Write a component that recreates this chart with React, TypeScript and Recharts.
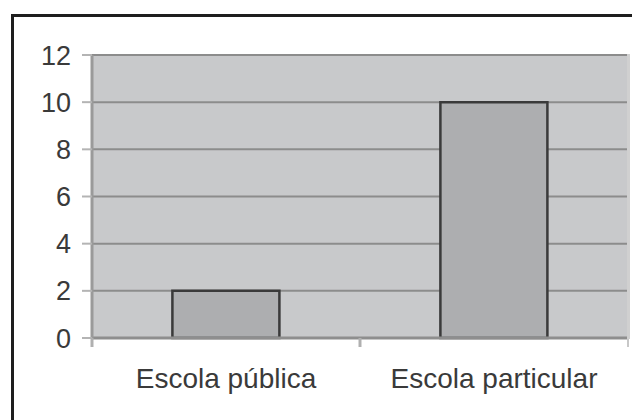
import React from 'react';
import { BarChart, Bar, XAxis, YAxis, CartesianGrid } from 'recharts';

const categories = ['Escola pública', 'Escola particular'];
const values = [2, 10];
const yTicks = [0, 2, 4, 6, 8, 10, 12];

const data = categories.map((name, i) => ({ name, value: values[i] }));

const CHART_W = 632;
const CHART_H = 420;
const PLOT_LEFT = 92;
const PLOT_RIGHT = 628;
const BAND = (PLOT_RIGHT - PLOT_LEFT) / categories.length;
const X_TICK_SIZE = 6;
const X_TICK_MARGIN = 2;

const XTick = (props: any) => {
  const { x, y, payload, index } = props;
  const axisY = y - X_TICK_SIZE - X_TICK_MARGIN;
  const left = x - BAND / 2;
  const right = x + BAND / 2;
  return (
    <g>
      <line x1={left} y1={axisY} x2={left} y2={axisY + 9} stroke="#b0b0b0" strokeWidth={3} />
      {index === categories.length - 1 && (
        <line x1={right} y1={axisY} x2={right} y2={axisY + 9} stroke="#c8c8c8" strokeWidth={2} />
      )}
      <text
        x={x}
        y={axisY + 30}
        dy="0.71em"
        textAnchor="middle"
        fill="#3a3a3a"
        fontSize={28}
        fontFamily="'Liberation Sans', Arial, sans-serif"
      >
        {payload.value}
      </text>
    </g>
  );
};

export default function App() {
  return (
    <div style={{ position: 'absolute', left: 0, top: 0, width: CHART_W, height: CHART_H, background: '#fff', overflow: 'hidden' }}>
      <div
        style={{
          position: 'absolute',
          left: 11,
          top: 14,
          width: 800,
          height: 600,
          borderLeft: '3px solid #1e1e1e',
          borderTop: '3px solid #1e1e1e',
        }}
      />
      <div style={{ position: 'absolute', left: 0, top: 0 }}>
        <BarChart
          width={CHART_W}
          height={CHART_H}
          data={data}
          margin={{ top: 55, right: CHART_W - PLOT_RIGHT, bottom: 42, left: 0 }}
          barCategoryGap="30%"
        >
          <CartesianGrid
            vertical={false}
            fill="#c8c9cb"
            stroke="#8c8c8c"
            strokeWidth={2}
            fillOpacity={1}
          />
          <XAxis
            dataKey="name"
            height={40}
            interval={0}
            tickLine={false}
            tickSize={X_TICK_SIZE}
            tickMargin={X_TICK_MARGIN}
            axisLine={{ stroke: '#8e8e8e', strokeWidth: 3 }}
            tick={<XTick />}
          />
          <YAxis
            width={PLOT_LEFT}
            domain={[0, 12]}
            ticks={yTicks}
            interval={0}
            tickSize={10}
            tickMargin={11}
            tickLine={{ stroke: '#b4b4b4', strokeWidth: 2 }}
            axisLine={{ stroke: '#9a9a9a', strokeWidth: 3 }}
            tick={{ fill: '#3a3a3a', fontSize: 27, fontFamily: "'Liberation Sans', Arial, sans-serif" }}
          />
          <Bar
            dataKey="value"
            fill="#adaeb0"
            stroke="#3a3a3a"
            strokeWidth={2.5}
            isAnimationActive={false}
          />
        </BarChart>
      </div>
      <div style={{ position: 'absolute', left: PLOT_RIGHT - 1, top: 54, width: 3, height: 285, background: '#d0d0d0' }} />
    </div>
  );
}
